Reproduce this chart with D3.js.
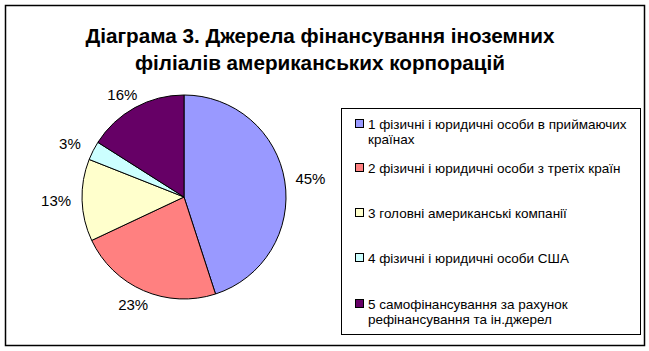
<!DOCTYPE html>
<html>
<head>
<meta charset="utf-8">
<script src="https://cdn.jsdelivr.net/npm/d3@7"></script>
<style>
  body { margin: 0; background: #fff; }
  svg { display: block; }
</style>
</head>
<body>
<div id="chart"></div>
<script>
// data
const titleLines = ['Діаграма 3. Джерела фінансування іноземних', 'філіалів американських корпорацій'];
const categories = [
  ['1 фізичні і юридичні особи в приймаючих', 'країнах'],
  ['2 фізичні і юридичні особи з третіх країн'],
  ['3 головні американські компанії'],
  ['4 фізичні і юридичні особи США'],
  ['5 самофінансування за рахунок', 'рефінансування та ін.джерел']
];
const values = [45, 23, 13, 3, 16];
const colors = ['#9999ff', '#ff8080', '#ffffcc', '#ccffff', '#660066'];

const width = 649, height = 351;
const cx = 184, cy = 197, radius = 102;

const svg = d3.select('#chart').append('svg')
  .attr('width', width)
  .attr('height', height);

// outer frame
svg.append('rect')
  .attr('x', 5.5).attr('y', 5.5)
  .attr('width', 639).attr('height', 340)
  .attr('fill', '#fff')
  .attr('stroke', '#000')
  .attr('stroke-width', 1.5);

// title
svg.append('g').selectAll('text')
  .data(titleLines)
  .enter().append('text')
  .attr('x', 320)
  .attr('y', (d, i) => 43 + i * 27)
  .attr('text-anchor', 'middle')
  .attr('font-family', 'Liberation Sans, Arial, sans-serif')
  .attr('font-weight', 'bold')
  .attr('font-size', 20.7)
  .text(d => d);

// pie
const pie = d3.pie().sort(null).value(d => d);
const arcs = pie(values);
const arc = d3.arc().innerRadius(0).outerRadius(radius);

const pieG = svg.append('g')
  .attr('transform', `translate(${cx},${cy})`);

pieG.selectAll('path')
  .data(arcs)
  .enter().append('path')
  .attr('d', arc)
  .attr('fill', (d, i) => colors[i])
  .attr('stroke', '#000')
  .attr('stroke-width', 1);

// percent labels outside of the slices
const total = d3.sum(values);
const labelArc = d3.arc().innerRadius(radius + 8).outerRadius(radius + 8);
const lblW = 36, lblH = 14;
pieG.selectAll('text')
  .data(arcs)
  .enter().append('text')
  .attr('transform', d => {
    const [x, y] = labelArc.centroid(d);
    const a = (d.startAngle + d.endAngle) / 2;
    const dx = Math.sin(a) * lblW / 2;
    const dy = -Math.cos(a) * lblH / 2;
    return `translate(${x + dx},${y + dy})`;
  })
  .attr('text-anchor', 'middle')
  .attr('dominant-baseline', 'central')
  .attr('font-family', 'Liberation Sans, Arial, sans-serif')
  .attr('font-size', 15)
  .text(d => Math.round(d.data / total * 100) + '%');

// legend
const legend = svg.append('g');
legend.append('rect')
  .attr('x', 341.5).attr('y', 108.5)
  .attr('width', 299).attr('height', 226)
  .attr('fill', '#fff')
  .attr('stroke', '#000')
  .attr('stroke-width', 1);

const itemY = [124, 168, 213, 258, 304];
const items = legend.selectAll('g.item')
  .data(categories)
  .enter().append('g')
  .attr('class', 'item')
  .attr('transform', (d, i) => `translate(355,${itemY[i]})`);

items.append('rect')
  .attr('x', 0.5).attr('y', -4.5)
  .attr('width', 8).attr('height', 8)
  .attr('fill', (d, i) => colors[i])
  .attr('stroke', '#000')
  .attr('stroke-width', 1);

items.append('text')
  .attr('x', 13)
  .attr('y', 4.5)
  .attr('font-family', 'Liberation Sans, Arial, sans-serif')
  .attr('font-size', 13.5)
  .selectAll('tspan')
  .data(d => d)
  .enter().append('tspan')
  .attr('x', 13)
  .attr('dy', (d, i) => i === 0 ? 0 : 15)
  .text(d => d);
</script>
</body>
</html>
